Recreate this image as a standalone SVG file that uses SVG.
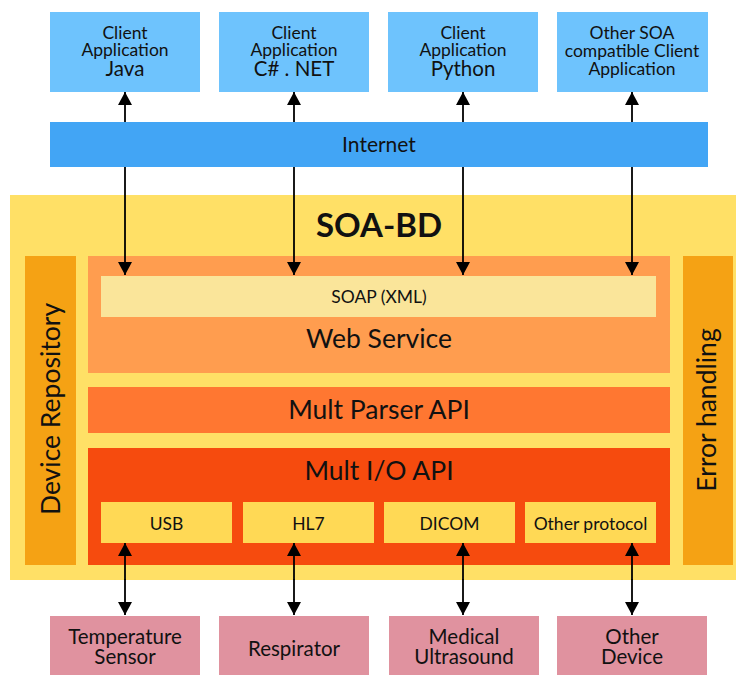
<svg xmlns="http://www.w3.org/2000/svg" width="736" height="675" viewBox="0 0 736 675">
<defs>
<marker id="ah" viewBox="0 0 13 14" refX="13" refY="7" markerWidth="13" markerHeight="14" markerUnits="userSpaceOnUse" orient="auto">
<path d="M0,0 L13,7 L0,14 Z" fill="#000"/>
</marker>
<style>
text{font-family:Lato,"Open Sans","Liberation Sans",sans-serif;fill:#111;text-anchor:middle}
.client{fill:#6EC3FD}
.dev{fill:#E0929F}
.proto{fill:#FFD955}
.c{font-size:17.5px}
.big{font-size:20.5px}
.l{font-size:26.5px}
.p{font-size:17.5px}
.conn{stroke:#000;stroke-width:1.8;fill:none;marker-end:url(#ah)}
</style>
</defs>
<rect width="736" height="675" fill="#fff"/>

<g id="client-java"><rect class="client" x="50" y="12" width="150" height="80"/>
<text class="c" x="125" y="39">Client</text><text class="c" x="125" y="56">Application</text><text class="big" x="125" y="76">Java</text></g>
<g id="client-csharp"><rect class="client" x="219" y="12" width="150" height="80"/>
<text class="c" x="294" y="39">Client</text><text class="c" x="294" y="56">Application</text><text class="big" x="294" y="76">C# . NET</text></g>
<g id="client-python"><rect class="client" x="388" y="12" width="150" height="80"/>
<text class="c" x="463" y="39">Client</text><text class="c" x="463" y="56">Application</text><text class="big" x="463" y="76">Python</text></g>
<g id="client-other"><rect class="client" x="557" y="12" width="151" height="80"/>
<text class="c" x="632" y="39">Other SOA</text><text class="c" x="632" y="57">compatible Client</text><text class="c" x="632" y="75">Application</text></g>

<g id="internet"><rect x="50" y="122" width="658" height="45" fill="#42A5F5"/>
<text x="379" y="152" style="font-size:21px">Internet</text></g>

<g id="soa-bd"><rect x="10" y="195" width="726" height="385" fill="#FFE066"/>
<text x="379" y="237" style="font-size:33px;font-weight:bold">SOA-BD</text></g>

<g id="device-repository"><rect x="25" y="256" width="51" height="309" fill="#F5A214"/>
<text class="l" transform="translate(60,409) rotate(-90)">Device Repository</text></g>
<g id="error-handling"><rect x="683" y="256" width="50" height="309" fill="#F5A214"/>
<text class="l" transform="translate(716,410) rotate(-90)">Error handling</text></g>

<g id="web-service"><rect x="88" y="256" width="582" height="117" fill="#FF9D4F"/>
<rect x="101" y="276" width="555" height="41" fill="#FAE59A"/>
<text class="p" x="379" y="303">SOAP (XML)</text>
<text class="l" x="379" y="348">Web Service</text></g>

<g id="mult-parser"><rect x="88" y="387" width="582" height="46" fill="#FF7731"/>
<text class="l" x="379" y="419">Mult Parser API</text></g>

<g id="mult-io"><rect x="88" y="448" width="582" height="117" fill="#F64B0E"/>
<text class="l" x="379" y="480">Mult I/O API</text></g>
<g id="usb"><rect class="proto" x="101" y="502" width="131" height="41"/><text class="p" x="166.5" y="530">USB</text></g>
<g id="hl7"><rect class="proto" x="243" y="502" width="131" height="41"/><text class="p" x="308.5" y="530">HL7</text></g>
<g id="dicom"><rect class="proto" x="384" y="502" width="131" height="41"/><text class="p" x="449.5" y="530">DICOM</text></g>
<g id="other-protocol"><rect class="proto" x="525" y="502" width="131" height="41"/><text class="p" x="590.5" y="530">Other protocol</text></g>

<g id="temperature-sensor"><rect class="dev" x="50" y="616" width="150" height="59"/>
<text class="big" x="125" y="644">Temperature</text><text class="big" x="125" y="664">Sensor</text></g>
<g id="respirator"><rect class="dev" x="219" y="616" width="150" height="59"/>
<text class="big" x="294" y="656">Respirator</text></g>
<g id="medical-ultrasound"><rect class="dev" x="389" y="616" width="150" height="59"/>
<text class="big" x="464" y="644">Medical</text><text class="big" x="464" y="664">Ultrasound</text></g>
<g id="other-device"><rect class="dev" x="557" y="616" width="150" height="59"/>
<text class="big" x="632" y="644">Other</text><text class="big" x="632" y="664">Device</text></g>

<g id="connectors">
<line class="conn" x1="125" y1="122" x2="125" y2="92"/>
<line class="conn" x1="294" y1="122" x2="294" y2="92"/>
<line class="conn" x1="463" y1="122" x2="463" y2="92"/>
<line class="conn" x1="632" y1="122" x2="632" y2="92"/>
<line class="conn" x1="125" y1="167" x2="125" y2="275"/>
<line class="conn" x1="294" y1="167" x2="294" y2="275"/>
<line class="conn" x1="463" y1="167" x2="463" y2="275"/>
<line class="conn" x1="632" y1="167" x2="632" y2="275"/>
<line class="conn" x1="125" y1="580" x2="125" y2="543"/>
<line class="conn" x1="294" y1="580" x2="294" y2="543"/>
<line class="conn" x1="463" y1="580" x2="463" y2="543"/>
<line class="conn" x1="632" y1="580" x2="632" y2="543"/>
<line class="conn" x1="125" y1="579" x2="125" y2="615"/>
<line class="conn" x1="294" y1="579" x2="294" y2="615"/>
<line class="conn" x1="463" y1="579" x2="463" y2="615"/>
<line class="conn" x1="632" y1="579" x2="632" y2="615"/>
</g>
</svg>
